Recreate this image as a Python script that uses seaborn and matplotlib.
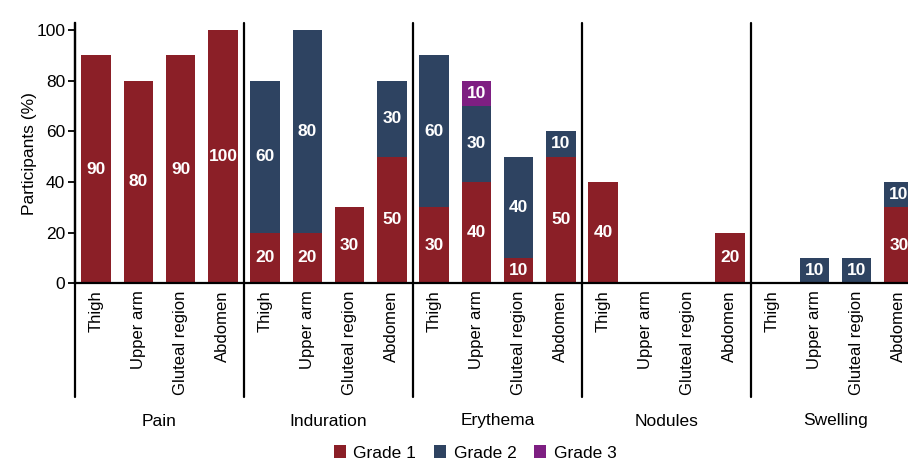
import matplotlib
matplotlib.use("Agg")
import matplotlib.pyplot as plt
import matplotlib.transforms as mtransforms
from matplotlib.patches import Patch
import numpy as np
import pandas as pd
import seaborn as sns

# ---- data ----
reactions = ["Pain", "Induration", "Erythema", "Nodules", "Swelling"]
sites = ["Thigh", "Upper arm", "Gluteal region", "Abdomen"]
grade1 = [90, 80, 90, 100,
          20, 20, 30, 50,
          30, 40, 10, 50,
          40, 0, 0, 20,
          0, 0, 0, 30]
grade2 = [0, 0, 0, 0,
          60, 80, 0, 30,
          60, 30, 40, 10,
          0, 0, 0, 0,
          0, 10, 10, 10]
grade3 = [0, 0, 0, 0,
          0, 0, 0, 0,
          0, 10, 0, 0,
          0, 0, 0, 0,
          0, 0, 0, 0]
grade_names = ["Grade 1", "Grade 2", "Grade 3"]
colors = ["#8B1F27", "#2E4361", "#7E1F82"]

sns.set_theme(style="white")
plt.rcParams["font.family"] = ["Liberation Sans", "DejaVu Sans"]
plt.rcParams["text.color"] = "black"
plt.rcParams["axes.labelcolor"] = "black"
plt.rcParams["xtick.color"] = "black"
plt.rcParams["ytick.color"] = "black"

keys = [f"{r}|{s}" for r in reactions for s in sites]
df = pd.DataFrame({
    "key": keys,
    "reaction": [r for r in reactions for s in sites],
    "site": [s for r in reactions for s in sites],
    "g1": grade1, "g2": grade2, "g3": grade3,
})
df["c1"] = df["g1"]
df["c2"] = df["g1"] + df["g2"]
df["c3"] = df["g1"] + df["g2"] + df["g3"]

W, H = 908, 462
fig = plt.figure(figsize=(W / 100, H / 100), dpi=100)
ax_left, ax_right = 75, 920
ax_top, ax_bot = 23, 283.3
ax = fig.add_axes([ax_left / W, 1 - ax_bot / H, (ax_right - ax_left) / W, (ax_bot - ax_top) / H])

for col, c in zip(["c3", "c2", "c1"], colors[::-1]):
    sns.barplot(data=df, x="key", y=col, order=keys, color=c, width=0.7,
                saturation=1, ax=ax, errorbar=None, linewidth=0)

# value labels
for i, row in df.iterrows():
    base = 0
    for g in ["g1", "g2", "g3"]:
        v = row[g]
        if v > 0:
            ax.text(i, base + v / 2, f"{v}", ha="center", va="center", color="white",
                    fontsize=12.5, fontweight="bold")
        base += v

ax.set_xlim(-0.5, len(keys) - 0.5)
ax.set_ylim(0, 102.7)
ax.set_yticks([0, 20, 40, 60, 80, 100])
ax.tick_params(axis="y", labelsize=12.5, length=5, width=1.3, color="black",
               labelcolor="black", left=True, pad=2)
ax.set_xticks(range(len(keys)))
ax.set_xticklabels(df["site"], rotation=90, fontsize=12)
ax.tick_params(axis="x", length=0, pad=5, labelcolor="black")
ax.set_xlabel("")
ax.set_ylabel("Participants (%)", fontsize=12.5, color="black")
ax.yaxis.set_label_coords((37 - ax_left) / (ax_right - ax_left), 0.5)

for side in ["top", "right"]:
    ax.spines[side].set_visible(False)
for side in ["left", "bottom"]:
    ax.spines[side].set_color("black")
    ax.spines[side].set_linewidth(1.6)

# group separators
axh = ax_bot - ax_top
ymin = (ax_bot - 397) / axh
for k in range(len(reactions)):
    ax.axvline(k * 4 - 0.5, ymin=ymin, ymax=1.0, color="black", lw=1.6, clip_on=False)

# group labels
trans = mtransforms.blended_transform_factory(ax.transData, ax.transAxes)
ylab = (ax_bot - 421) / axh
for k, r in enumerate(reactions):
    ax.text(k * 4 + 1.5, ylab, r, transform=trans, ha="center", va="center",
            fontsize=12.5, color="black")

handles = [Patch(facecolor=c, edgecolor="none", label=n) for c, n in zip(colors, grade_names)]
leg = fig.legend(handles=handles, loc="center", bbox_to_anchor=(475 / W, 1 - 453 / H), ncol=3,
                 frameon=False, fontsize=12.5, handlelength=0.7, handleheight=0.7,
                 handletextpad=0.45, columnspacing=1.0)
for t in leg.get_texts():
    t.set_color("black")

fig.savefig("out.png", dpi=100)
